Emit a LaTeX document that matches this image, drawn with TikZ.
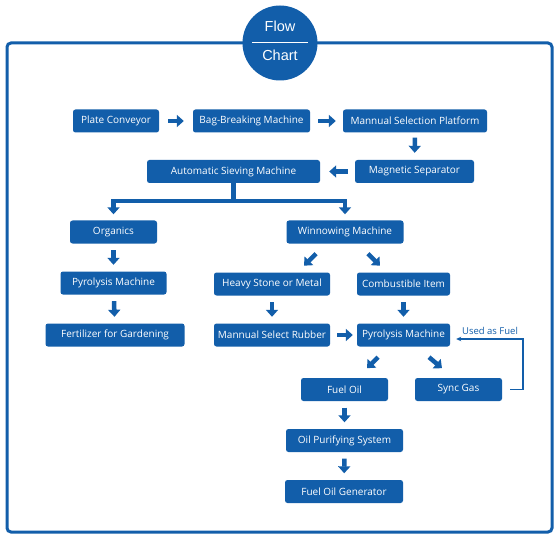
\documentclass[tikz,border=0pt]{standalone}
\usepackage{fontspec}
\setmainfont{Open Sans}
\newfontfamily\arialf{Liberation Sans}
\usetikzlibrary{arrows.meta,calc}
\definecolor{fcblue}{RGB}{18,94,170}
\begin{document}
\begin{tikzpicture}[x=1pt,y=-1pt,
  box/.style={fill=fcblue, rounded corners=2.5pt, text=white, minimum height=23pt,
              inner sep=0pt, font=\fontsize{10}{11}\selectfont},
  barrow/.style={draw=fcblue, line width=4.5pt, -{Triangle[length=7pt,width=12pt]}},
  vshort/.style={shorten <=6.5pt, shorten >=6.5pt},
  fbline/.style={draw=fcblue, line width=1.2pt, -{Stealth[length=5pt,width=4.5pt]}}]
\useasboundingbox (0,0) rectangle (558,543);
\fill[white] (0,0) rectangle (558,543);
% frame
\draw[fcblue, line width=3pt, rounded corners=4pt] (7,43) rectangle (552,532);
% title circle
\node[circle, fill=fcblue, minimum size=75pt, inner sep=0pt] (logo) at (280,43) {};
\node[text=white, font=\arialf\fontsize{14.5}{16}\selectfont] (flow) at (280,26.5) {Flow};
\node[text=white, font=\arialf\fontsize{14.5}{16}\selectfont] (chart) at (280,55) {Chart};
\draw[white, line width=1pt] ($(logo.center)+(-28,0)$) -- ($(logo.center)+(28,0)$);
% boxes
\node[box, minimum width=86pt]  (pc)   at (116,121)     {Plate Conveyor};
\node[box, minimum width=117pt] (bb)   at (251.5,121)   {Bag-Breaking Machine};
\node[box, minimum width=144pt] (msp)  at (415,121)     {Mannual Selection Platform};
\node[box, minimum width=119pt] (ms)   at (414.5,171.5) {Magnetic Separator};
\node[box, minimum width=173pt] (asm)  at (233.5,171.5) {Automatic Sieving Machine};
\node[box, minimum width=87pt]  (org)  at (113.5,232)   {Organics};
\node[box, minimum width=117pt] (win)  at (345,232)     {Winnowing Machine};
\node[box, minimum width=106pt] (pyl)  at (113.5,283)   {Pyrolysis Machine};
\node[box, minimum width=116pt] (hs)   at (272,284)     {Heavy Stone or Metal};
\node[box, minimum width=93pt]  (ci)   at (403.5,284)   {Combustible Item};
\node[box, minimum width=139pt] (fert) at (115,335)     {Fertilizer for Gardening};
\node[box, minimum width=116pt] (msr)  at (272,335)     {Mannual Select Rubber};
\node[box, minimum width=93pt]  (py2)  at (403.5,335)   {Pyrolysis Machine};
\node[box, minimum width=87pt]  (fo)   at (344.5,389.5) {Fuel Oil};
\node[box, minimum width=87pt]  (sg)   at (458.5,389.5) {Sync Gas};
\node[box, minimum width=117pt] (ops)  at (344.5,440.5) {Oil Purifying System};
\node[box, minimum width=118pt] (fog)  at (344,491.5)   {Fuel Oil Generator};
% horizontal block arrows
\draw[barrow, shorten <=9pt, shorten >=9pt] (pc) -- (bb);
\draw[barrow, shorten <=8pt, shorten >=7pt] (bb) -- (msp);
\draw[barrow, shorten <=7pt, shorten >=9pt] (ms) -- (asm);
\draw[barrow, shorten <=7pt, shorten >=4pt] (msr) -- (py2);
% vertical block arrows
\draw[barrow, shorten <=5pt, shorten >=7pt] (msp) -- (ms);
\draw[barrow, vshort] (org) -- (pyl);
\draw[barrow, vshort] (pyl) -- (fert);
\draw[barrow, vshort] (hs) -- (msr);
\draw[barrow, vshort] (ci) -- (py2);
\draw[barrow, vshort] (fo) -- (ops);
\draw[barrow, vshort] (ops) -- (fog);
% fork from sieving machine
\coordinate (fork) at ($(asm.south)+(0,18)$);
\draw[fcblue, line width=4.5pt] (asm.south) -- (fork);
\draw[fcblue, line width=4.5pt, line join=miter,
      {Triangle[length=7pt,width=12pt]}-{Triangle[length=7pt,width=12pt]}]
  ($(org.north)+(0,-6)$) -- (org.north |- fork) -- (win.north |- fork) -- ($(win.north)+(0,-6)$);
% diagonal block arrows
\draw[barrow] ($(win.south)+(-29,10)$) -- ($(win.south)+(-41,22)$);
\draw[barrow] ($(win.south)+(23,10)$) -- ($(win.south)+(35,22)$);
\draw[barrow] ($(py2.south)+(-25.5,10.5)$) -- ($(py2.south)+(-36.5,21.5)$);
\draw[barrow] ($(py2.south)+(25.5,10.5)$) -- ($(py2.south)+(38.5,21.5)$);
% feedback line
\coordinate (fbc) at (523,339);
\draw[fbline] ($(sg.east)+(8,0)$) -| (fbc) -- ($(py2.east)+(6,4)$);
\node[text=fcblue, font=\fontsize{9.5}{11}\selectfont] (uaf) at (490,331) {Used as Fuel};
\end{tikzpicture}
\end{document}
